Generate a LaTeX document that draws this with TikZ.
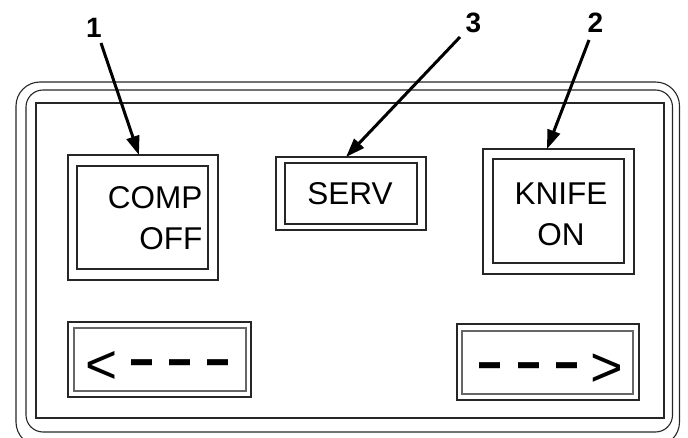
\documentclass[tikz,border=0pt]{standalone}
\usepackage{fontspec}
\setmainfont{Liberation Sans}
\usetikzlibrary{arrows.meta,calc}
\newcommand\kdash{\raisebox{-2pt}{\scalebox{1.26}[3]{–}}}
\begin{document}
\begin{tikzpicture}[x=1pt,y=-1pt,
  frame/.style={draw=black!85,line width=1.1pt},
  box/.style={frame,rectangle,inner sep=0pt,outer sep=0pt,anchor=north west},
  btntext/.style={inner sep=0pt,font=\fontsize{31.5}{41}\selectfont},
  keytext/.style={inner sep=0pt,anchor=base west,font=\fontsize{30}{30}\selectfont},
  lbl/.style={inner sep=0pt,font=\bfseries\fontsize{28}{28}\selectfont},
  arr/.style={line width=3pt,-{Triangle[length=19pt,width=13pt]}}]
\useasboundingbox (0,0) rectangle (688,438);
% panel frames
\draw[frame,rounded corners=24pt] (16,82) rectangle (679.5,446);
\draw[frame,rounded corners=17pt] (26,90) rectangle (672.5,432);
\draw[frame] (36,103) rectangle (664,418);
% COMP OFF
\node[box,minimum width=150pt,minimum height=125pt] (b1o) at (68,155) {};
\node[box,minimum width=131pt,minimum height=103pt] (b1i) at (77,166) {};
\node[btntext,align=right,anchor=north east] (t1) at (202.5,186.3) {COMP\\OFF};
% SERV
\node[box,minimum width=150pt,minimum height=73pt] (b3o) at (276,157) {};
\node[box,minimum width=132pt,minimum height=61pt] (b3i) at (285,163) {};
\node[btntext,anchor=north] (t3) at (350,182.4) {SERV};
% KNIFE ON
\node[box,minimum width=151pt,minimum height=125pt] (b2o) at (483,149) {};
\node[box,minimum width=131pt,minimum height=104pt] (b2i) at (493,159) {};
\node[btntext,align=center,anchor=north] (t2) at (561,182.5) {KNIFE\\ON};
% arrow keys
\node[box,minimum width=183pt,minimum height=75pt] (klo) at (68,322) {};
\node[box,minimum width=172pt,minimum height=63pt,draw=black!60] (kli) at (74,328) {};
\node[keytext] (kl) at (85.4,383.4) {{\fontsize{55}{55}\selectfont<}\hspace{13.5pt}\kdash\hspace{17.5pt}\kdash\hspace{17pt}\kdash};
\node[box,minimum width=182pt,minimum height=76pt] (kro) at (457,324) {};
\node[box,minimum width=171pt,minimum height=63pt,draw=black!60] (kri) at (462,331) {};
\node[keytext] (kr) at (479,386.5) {\kdash\hspace{18pt}\kdash\hspace{17pt}\kdash\hspace{13.3pt}{\fontsize{56}{56}\selectfont>}};
% labels and leaders
\node[lbl] (l1) at (94,28) {1};
\node[lbl] (l3) at (473.5,23) {3};
\node[lbl] (l2) at (595.5,22.5) {2};
\coordinate (s1) at (101,43);
\coordinate (s3) at (460,37);
\coordinate (s2) at (589,40);
\draw[arr] (s1) -- ($(b1o.north west)!0.473!(b1o.north east)$);
\draw[arr] (s3) -- ($(b3o.north west)!0.467!(b3o.north east)$);
\draw[arr] (s2) -- ($(b2o.north west)!0.424!(b2o.north east)$);
\end{tikzpicture}
\end{document}
